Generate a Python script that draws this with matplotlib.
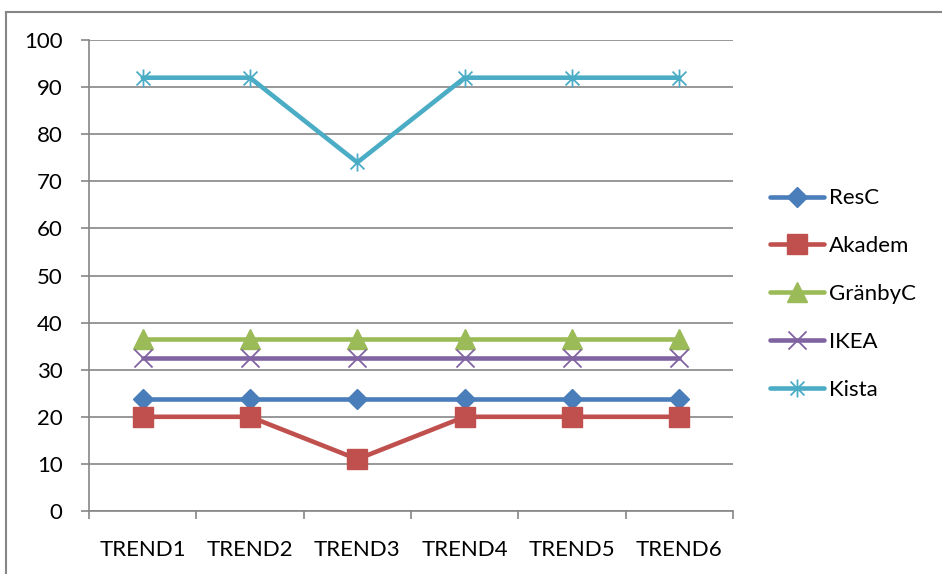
import matplotlib
matplotlib.use("Agg")
import matplotlib.pyplot as plt
from matplotlib.path import Path
from matplotlib.lines import Line2D

categories = ["TREND1", "TREND2", "TREND3", "TREND4", "TREND5", "TREND6"]
resc = [23.7, 23.7, 23.7, 23.7, 23.7, 23.7]
akadem = [20, 20, 11, 20, 20, 20]
granbyc = [36.5, 36.5, 36.5, 36.5, 36.5, 36.5]
ikea = [32.5, 32.5, 32.5, 32.5, 32.5, 32.5]
kista = [92, 92, 74, 92, 92, 92]
y_ticks = [0, 10, 20, 30, 40, 50, 60, 70, 80, 90, 100]

plt.rcParams["font.family"] = ["Lato", "DejaVu Sans"]

W, H = 942, 574
fig = plt.figure(figsize=(W / 100, H / 100), dpi=100)
ax = fig.add_axes([89 / W, 1 - 511 / H, (733 - 89) / W, (511 - 40) / H])

# Asterisk marker: an X with a vertical bar through it
star = Path(
    [(-1, -1), (1, 1), (-1, 1), (1, -1), (0, -1.3), (0, 1.3)],
    [Path.MOVETO, Path.LINETO, Path.MOVETO, Path.LINETO, Path.MOVETO, Path.LINETO],
)
xmark = Path(
    [(-1, -1), (1, 1), (-1, 1), (1, -1)],
    [Path.MOVETO, Path.LINETO, Path.MOVETO, Path.LINETO],
)

x = list(range(len(categories)))
lw = 3.3
series = [
    ("ResC", resc, "#4A7EBB", dict(marker="D", markersize=10)),
    ("Akadem", akadem, "#C0504D", dict(marker="s", markersize=14)),
    ("GränbyC", granbyc, "#9BBB59", dict(marker="^", markersize=14)),
    ("IKEA", ikea, "#8064A2", dict(marker=xmark, markersize=13, markerfacecolor="none", markeredgewidth=1.3)),
    ("Kista", kista, "#4BACC6", dict(marker=star, markersize=13, markerfacecolor="none", markeredgewidth=1.3)),
]
for i, (name, vals, col, mk) in enumerate(series):
    kw = dict(mk)
    kw.setdefault("markerfacecolor", col)
    ax.plot(x, vals, color=col, lw=lw, label=name, markeredgecolor=col,
            zorder=3 + i, solid_capstyle="round", solid_joinstyle="round", **kw)

gray = "#868686"
fs = 16
ax.set_xlim(-0.5, len(categories) - 0.5)
ax.set_ylim(0, 100)
ax.set_yticks(y_ticks)
ax.set_xticks(x)
ax.set_xticklabels(categories)
ax.set_xticks([i - 0.5 for i in range(len(categories) + 1)], minor=True)
ax.tick_params(axis="x", which="major", length=0, pad=21, labelsize=fs, colors="black")
ax.tick_params(axis="x", which="minor", length=6, width=1.2, color=gray, direction="out")
ax.tick_params(axis="y", length=6, width=1.2, color=gray, direction="out", pad=13,
               labelsize=fs, labelcolor="black")
ax.grid(axis="y", color=gray, lw=1.2, zorder=0)
ax.set_axisbelow(True)
for s in ("top", "right"):
    ax.spines[s].set_visible(False)
for s in ("left", "bottom"):
    ax.spines[s].set_color(gray)
    ax.spines[s].set_linewidth(1.2)

fig.legend(loc="center left", bbox_to_anchor=(770 / W, 1 - 294 / H), frameon=False,
           fontsize=fs, handlelength=2.45, handletextpad=0.2, labelspacing=1.25,
           borderpad=0, borderaxespad=0)

# Chart-area frame
fig.add_artist(Line2D([6 / W, 6 / W], [1 - 12 / H, 0], color=gray, lw=1.5))
fig.add_artist(Line2D([6 / W, 1], [1 - 12 / H, 1 - 12 / H], color=gray, lw=1.5))

fig.savefig("out.png", dpi=100)
